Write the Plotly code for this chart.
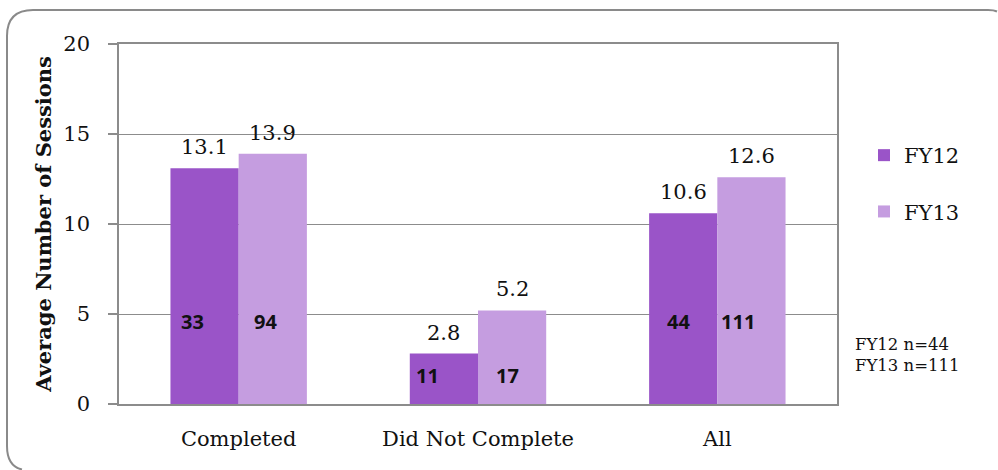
import plotly.graph_objects as go

categories = ["Completed", "Did Not Complete", "All"]
fy12_values = [13.1, 2.8, 10.6]
fy13_values = [13.9, 5.2, 12.6]
fy12_counts = ["33", "11", "44"]
fy13_counts = ["94", "17", "111"]
series_names = ["FY12", "FY13"]
y_ticks = [0, 5, 10, 15, 20]
note_lines = ["FY12 n=44", "FY13 n=111"]

C12 = "#9A54C8"
C13 = "#C59DE0"
GRID = "#8c8c8c"
SERIF = "DejaVu Serif"

# layout geometry (pixels)
W, H = 998, 470
ML, MR, MT, MB = 119, 161, 44, 66
PW = W - ML - MR
PH = H - MT - MB

fig = go.Figure()
for name, vals, col, grp in [(series_names[0], fy12_values, C12, "a"),
                             (series_names[1], fy13_values, C13, "b")]:
    fig.add_trace(go.Bar(
        x=categories, y=vals, name=name, marker_color=col,
        marker_line_width=0, cliponaxis=False, legendgroup=grp,
    ))

half = (1 - 0.43) / 4
ann = []
# value labels above bars
for i in range(len(categories)):
    for off, vals in [(-half, fy12_values), (half, fy13_values)]:
        ann.append(dict(x=i + off, y=vals[i], xref="x", yref="y", text=f"{vals[i]:.1f}",
                        showarrow=False, yanchor="bottom", yshift=7,
                        font=dict(family=SERIF, size=21, color="#111")))

# count labels inside bars (positions are layout constants)
count_y = [4.6, 1.6, 4.6]
shift12 = [-12, -16, -5]
shift13 = [-7, -5, -13]
for i in range(len(categories)):
    ann.append(dict(x=i - half, y=count_y[i], xref="x", yref="y", text=f"<b>{fy12_counts[i]}</b>",
                    showarrow=False, xshift=shift12[i],
                    font=dict(family="Noto Sans", size=20, color="#111")))
    ann.append(dict(x=i + half, y=count_y[i], xref="x", yref="y", text=f"<b>{fy13_counts[i]}</b>",
                    showarrow=False, xshift=shift13[i],
                    font=dict(family="Noto Sans", size=20, color="#111")))

def px(xp):
    return (xp - ML) / PW

def py(yp):
    return (H - MB - yp) / PH

ann.append(dict(x=px(853), y=py(355), xref="paper", yref="paper",
                xanchor="left", yanchor="middle", align="left", showarrow=False,
                text="<br>".join(note_lines),
                font=dict(family=SERIF, size=16.5, color="#111")))

# rounded outer border (only the part inside the window)
R = 26
path = (f"M {px(22)},{py(469.5)} Q {px(7)},{py(466)} {px(7)},{py(446)} "
        f"L {px(7)},{py(10 + R)} Q {px(7)},{py(10)} {px(7 + R)},{py(10)} "
        f"L {px(988)},{py(10)} Q {px(994)},{py(10)} {px(997)},{py(11.5)}")

fig.update_layout(
    width=W, height=H,
    margin=dict(l=ML, r=MR, t=MT, b=MB, pad=0),
    paper_bgcolor="white", plot_bgcolor="white",
    barmode="group", bargap=0.43, bargroupgap=0,
    annotations=ann,
    shapes=[dict(type="path", path=path, xref="paper", yref="paper",
                 line=dict(color="#8a8a8a", width=2), layer="below")],
    legend=dict(x=px(864), y=py(135), xanchor="left", yanchor="top",
                font=dict(family=SERIF, size=21, color="#111"),
                traceorder="grouped", tracegroupgap=26,
                bgcolor="rgba(0,0,0,0)"),
    xaxis=dict(showline=True, linecolor=GRID, linewidth=1.5, mirror=True,
               ticks="", showgrid=False,
               tickfont=dict(family=SERIF, size=21, color="#111"),
               ticklabelstandoff=15),
    yaxis=dict(range=[0, 20], tickvals=y_ticks, showline=True, linecolor=GRID,
               linewidth=1.5, mirror=True, ticks="outside", ticklen=9,
               tickcolor=GRID, tickwidth=1.5,
               showgrid=True, gridcolor=GRID, gridwidth=1.2, zeroline=False,
               tickfont=dict(family=SERIF, size=21, color="#111"),
               ticklabelstandoff=14,
               title=dict(text="<b>Average Number of Sessions</b>",
                          font=dict(family=SERIF, size=21, color="#111"),
                          standoff=6)),
)

fig.write_html("out.html")
